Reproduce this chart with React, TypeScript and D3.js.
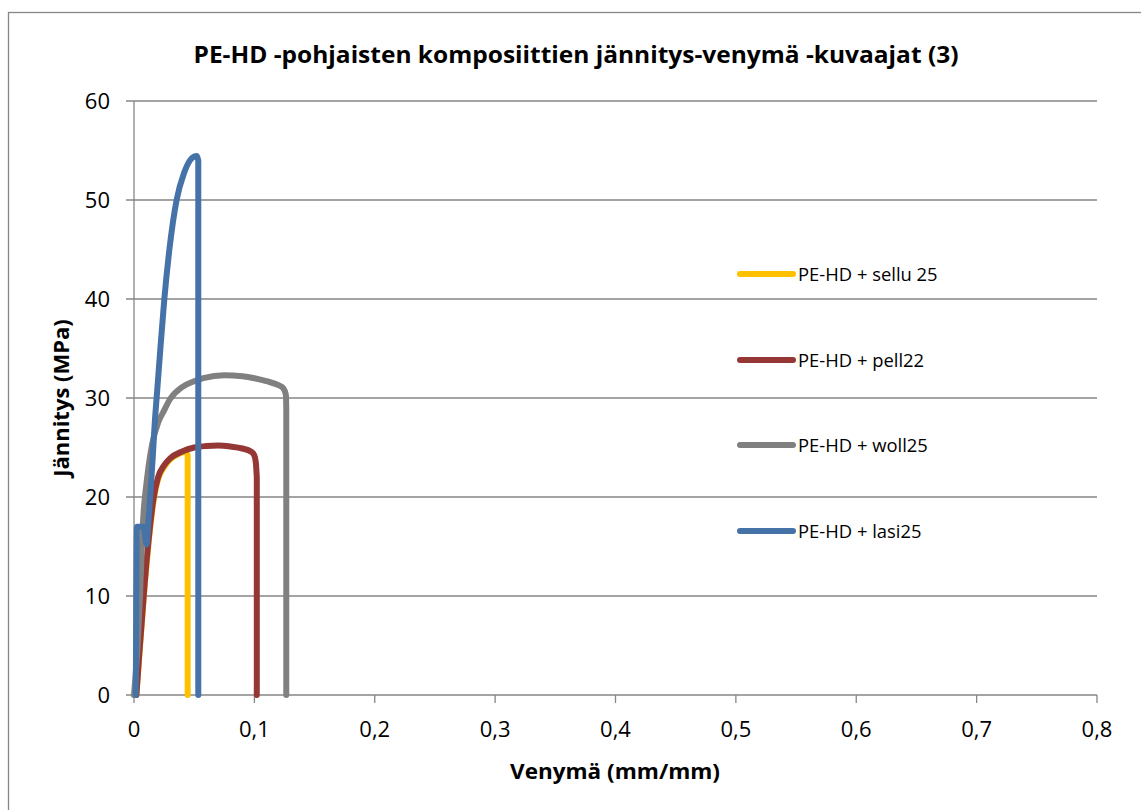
import React from "react";
import * as d3 from "d3";

type Pt = [number, number];

// Strain (mm/mm) vs. stress (MPa) for each composite
const sellu25: Pt[] = [
  [0.002, 0], [0.004, 3.3], [0.0065, 7.3], [0.009, 11.2], [0.012, 15.2], [0.016, 19.4],
  [0.02, 21.8], [0.025, 23.0], [0.03, 23.8], [0.035, 24.2], [0.04, 24.5], [0.043, 24.6],
  [0.0446, 24.2], [0.0446, 0],
];
const pell22: Pt[] = [
  [0.002, 0], [0.004, 3.5], [0.0065, 7.5], [0.009, 11.5], [0.012, 15.5], [0.016, 19.7],
  [0.02, 22.0], [0.025, 23.2], [0.03, 23.9], [0.04, 24.6], [0.05, 25.0], [0.06, 25.15],
  [0.07, 25.2], [0.08, 25.1], [0.09, 24.9], [0.097, 24.6], [0.1, 24.2], [0.1012, 23.5],
  [0.102, 22.0], [0.102, 0],
];
const woll25: Pt[] = [
  [0, 0], [0.003, 5], [0.005, 10], [0.0065, 15], [0.008, 18.5], [0.01, 21], [0.012, 23],
  [0.015, 25.3], [0.02, 27.5], [0.0244, 28.6], [0.03, 29.9], [0.04, 31.1], [0.05, 31.7],
  [0.0576, 32.0], [0.075, 32.3], [0.09, 32.2], [0.1, 32.0], [0.11, 31.7], [0.12, 31.3],
  [0.124, 31.0], [0.1262, 30.3], [0.1265, 29], [0.1265, 0],
];
const lasi25: Pt[] = [
  [0.0015, 0], [0.0025, 17], [0.008, 17], [0.0105, 15.2], [0.012, 17.5], [0.014, 21],
  [0.0158, 24.5], [0.0174, 27.8], [0.0188, 30], [0.0216, 34.5], [0.0252, 40],
  [0.0293, 44.9], [0.0354, 50], [0.0415, 52.7], [0.0465, 54], [0.05, 54.4],
  [0.052, 54.45], [0.0534, 54], [0.0534, 0],
];

const seriesNames = ["PE-HD + sellu 25", "PE-HD + pell22", "PE-HD + woll25", "PE-HD + lasi25"];
const seriesColors = ["#FFC000", "#953735", "#808080", "#4572A7"];
const seriesData = [sellu25, pell22, woll25, lasi25];

const xTicks = [0, 0.1, 0.2, 0.3, 0.4, 0.5, 0.6, 0.7, 0.8];
const yTicks = [0, 10, 20, 30, 40, 50, 60];

const title = "PE-HD -pohjaisten komposiittien jännitys-venymä -kuvaajat (3)";
const xTitle = "Venymä (mm/mm)";
const yTitle = "Jännitys (MPa)";

const W = 1141;
const H = 810;
const plot = { left: 134, right: 1097, top: 101, bottom: 695 };
const font = "'Open Sans', 'Liberation Sans', sans-serif";
const gridColor = "#868686";

export default function App() {
  const x = d3.scaleLinear().domain([0, 0.8]).range([plot.left, plot.right]);
  const y = d3.scaleLinear().domain([0, 60]).range([plot.bottom, plot.top]);
  const smooth = d3
    .line<Pt>()
    .x((d) => x(d[0]))
    .y((d) => y(d[1]))
    .curve(d3.curveMonotoneX);
  const straight = d3
    .line<Pt>()
    .x((d) => x(d[0]))
    .y((d) => y(d[1]));

  // Smooth the loading part (strictly increasing strain), keep the final break drop straight.
  const seriesPath = (pts: Pt[]) => {
    let k = 1;
    while (k < pts.length && pts[k][0] > pts[k - 1][0]) k++;
    const head = pts.slice(0, k);
    const tail = pts.slice(k - 1);
    const a = smooth(head) ?? "";
    const b = tail.length > 1 ? (straight(tail) ?? "").replace(/^M/, "L") : "";
    return a + b;
  };
  const fmt = (v: number) => String(v).replace(".", ",");

  return (
    <svg
      width={W}
      height={H}
      style={{ position: "absolute", left: 0, top: 0, background: "#fff" }}
      fontFamily={font}
    >
      <rect x={8.5} y={12.5} width={W + 10} height={H + 10} fill="#fff" stroke="#868686" strokeWidth={1.3} />

      <text x={576} y={63} textAnchor="middle" fontWeight="bold" fontSize={23} textLength={765} lengthAdjust="spacingAndGlyphs">
        {title}
      </text>

      {/* horizontal gridlines with left tick marks */}
      {yTicks.map((t) => (
        <g key={"y" + t}>
          <line x1={plot.left - 8} x2={plot.right} y1={y(t)} y2={y(t)} stroke={gridColor} strokeWidth={1.3} />
          <text x={110} y={y(t)} dy="0.36em" textAnchor="end" fontSize={22}>
            {t}
          </text>
        </g>
      ))}
      {/* y axis */}
      <line x1={plot.left} x2={plot.left} y1={plot.top} y2={plot.bottom} stroke={gridColor} strokeWidth={1.3} />

      {/* x axis ticks and labels */}
      {xTicks.map((t) => (
        <g key={"x" + t}>
          <line x1={x(t)} x2={x(t)} y1={plot.bottom} y2={plot.bottom + 8} stroke={gridColor} strokeWidth={1.3} />
          <text x={x(t)} y={737} textAnchor="middle" fontSize={22}>
            {fmt(t)}
          </text>
        </g>
      ))}

      <text x={615} y={779} textAnchor="middle" fontWeight="bold" fontSize={21} textLength={210} lengthAdjust="spacingAndGlyphs">
        {xTitle}
      </text>
      <text transform={`translate(69,398) rotate(-90)`} textAnchor="middle" fontWeight="bold" fontSize={22}>
        {yTitle}
      </text>

      {/* series */}
      {seriesData.map((d, i) => (
        <path
          key={seriesNames[i]}
          d={seriesPath(d)}
          fill="none"
          stroke={seriesColors[i]}
          strokeWidth={6}
          strokeLinejoin="round"
          strokeLinecap="round"
        />
      ))}

      {/* legend */}
      {seriesNames.map((n, i) => {
        const ly = [274, 360, 445, 531][i];
        return (
          <g key={"lg" + n}>
            <line x1={740} x2={793} y1={ly} y2={ly} stroke={seriesColors[i]} strokeWidth={6} strokeLinecap="round" />
            <text x={798} y={ly} dy="0.36em" fontSize={18.4}>
              {n}
            </text>
          </g>
        );
      })}
    </svg>
  );
}
